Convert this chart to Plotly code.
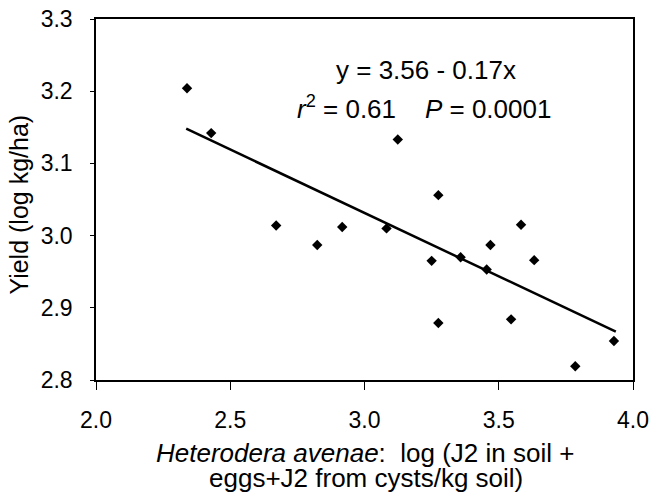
import plotly.graph_objects as go

# Data
x_vals = [2.339, 2.429, 2.671, 2.824, 2.917, 3.082, 3.124, 3.250, 3.275, 3.275,
          3.358, 3.455, 3.469, 3.546, 3.583, 3.632, 3.785, 3.929]
y_vals = [3.204, 3.142, 3.014, 2.987, 3.012, 3.010, 3.133, 2.965, 3.056, 2.879,
          2.970, 2.953, 2.987, 2.884, 3.015, 2.966, 2.819, 2.854]
fit_x = [2.336, 3.936]
fit_y = [3.148, 2.867]
x_ticks = [2.0, 2.5, 3.0, 3.5, 4.0]
y_ticks = [2.8, 2.9, 3.0, 3.1, 3.2, 3.3]

FONT = "Arial, Liberation Sans, sans-serif"

fig = go.Figure()
fig.add_trace(go.Scatter(x=x_vals, y=y_vals, mode="markers",
                         marker=dict(symbol="diamond", size=8, color="black"),
                         showlegend=False))
fig.add_trace(go.Scatter(x=fit_x, y=fit_y, mode="lines",
                         line=dict(color="black", width=2.5),
                         showlegend=False))

fig.update_layout(
    width=650, height=504,
    margin=dict(l=96, r=17, t=19, b=124),
    paper_bgcolor="white", plot_bgcolor="white",
    font=dict(family=FONT, size=24, color="black"),
    xaxis=dict(range=[2.0, 4.0], tickvals=x_ticks,
               ticktext=[f"{v:.1f}" for v in x_ticks],
               showgrid=False, zeroline=False, automargin=False,
               showline=True, linecolor="black", linewidth=1.5, mirror=True,
               ticks="outside", ticklen=8, tickcolor="black", tickwidth=1,
               ticklabelstandoff=11,
               tickfont=dict(family=FONT, size=23, color="black")),
    yaxis=dict(range=[2.8, 3.3], tickvals=y_ticks,
               ticktext=[f"{v:.1f}" for v in y_ticks],
               showgrid=False, zeroline=False, automargin=False,
               showline=True, linecolor="black", linewidth=1.5, mirror=True,
               ticks="outside", ticklen=4, tickcolor="black", tickwidth=1,
               ticklabelstandoff=13,
               tickfont=dict(family=FONT, size=23, color="black")),
)

ann = [
    dict(text="y = 3.56 - 0.17x", x=0.615, y=0.859, size=26),
    dict(text="<i>r</i><sup>2</sup> = 0.61&nbsp;&nbsp;&nbsp;&nbsp;<i>P</i> = 0.0001",
         x=0.611, y=0.755, size=26),
    dict(text="<i>Heterodera avenae</i>:&nbsp;&nbsp;log (J2 in soil +", x=0.5, y=-0.203, size=26),
    dict(text="eggs+J2 from cysts/kg soil)", x=0.502, y=-0.272, size=26),
]
for a in ann:
    sz = a.pop("size")
    fig.add_annotation(xref="paper", yref="paper", showarrow=False,
                       xanchor="center", yanchor="middle",
                       font=dict(family=FONT, size=sz, color="black"), **a)
fig.add_annotation(text="Yield (log kg/ha)", xref="paper", yref="paper",
                   x=-0.144, y=0.485, textangle=-90, showarrow=False,
                   xanchor="center", yanchor="middle",
                   font=dict(family=FONT, size=25, color="black"))

fig.write_html("out.html", config={"displayModeBar": False},
               post_script="document.body.style.margin='0px';document.body.style.overflow='hidden';")
